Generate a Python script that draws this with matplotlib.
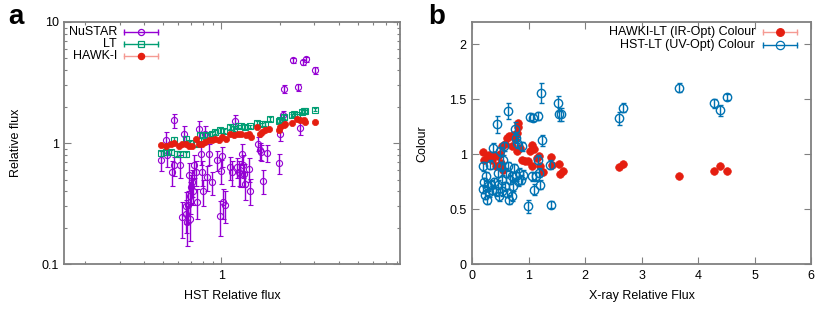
import matplotlib
matplotlib.use("Agg")
import matplotlib.pyplot as plt
from matplotlib.ticker import FixedLocator, NullFormatter, FixedFormatter

plt.rcParams['font.family'] = ['Liberation Sans', 'DejaVu Sans']

# ---------------- Panel a data ----------------
nu_x = [0.490, 0.520, 0.526, 0.559, 0.570, 0.574, 0.616, 0.629, 0.646, 0.654,
        0.659, 0.667, 0.675, 0.683, 0.689, 0.693, 0.699, 0.707, 0.716, 0.721,
        0.736, 0.750, 0.765, 0.787, 0.796, 0.805, 0.828, 0.845, 0.861, 0.896,
        0.950, 0.988, 0.996, 1.008, 1.020, 1.048, 1.112, 1.134, 1.170, 1.203,
        1.227, 1.251, 1.276, 1.291, 1.312, 1.328, 1.380, 1.408, 1.536, 1.573,
        1.597, 1.629, 1.715, 1.984, 2.006, 2.064, 2.104, 2.322, 2.463, 2.542,
        2.612, 2.718, 3.012]
nu_y = [0.728, 1.065, 0.791, 0.576, 0.654, 1.539, 0.654, 0.245, 1.194, 0.305,
        0.261, 0.222, 0.311, 0.541, 0.369, 0.237, 0.433, 0.476, 0.406, 0.654,
        0.576, 0.325, 1.313, 0.816, 0.576, 0.401, 1.194, 0.524, 0.816, 0.476,
        0.728, 0.252, 0.594, 0.781, 0.325, 0.311, 0.634, 0.576, 1.520, 0.634,
        0.576, 0.558, 0.816, 0.654, 0.558, 0.461, 0.614, 0.406, 0.987, 0.870,
        0.843, 0.491, 0.832, 0.683, 1.194, 1.693, 2.813, 4.82, 2.90, 1.339,
        4.67, 4.91, 3.99]
nu_err = [0.14, 0.17, 0.15, 0.13, 0.12, 0.20, 0.14, 0.08, 0.19, 0.09,
          0.08, 0.08, 0.09, 0.14, 0.11, 0.08, 0.11, 0.12, 0.10, 0.14,
          0.13, 0.09, 0.21, 0.16, 0.13, 0.10, 0.19, 0.12, 0.16, 0.10,
          0.14, 0.08, 0.13, 0.15, 0.09, 0.09, 0.14, 0.13, 0.19, 0.12,
          0.13, 0.12, 0.16, 0.14, 0.12, 0.12, 0.14, 0.10, 0.13, 0.14,
          0.13, 0.11, 0.13, 0.13, 0.15, 0.16, 0.21, 0.24, 0.18, 0.17,
          0.23, 0.25, 0.25]

lt_x = [0.490, 0.520, 0.548, 0.574, 0.593, 0.616, 0.654, 0.654, 0.693, 0.750,
        0.780, 0.812, 0.845, 0.896, 0.932, 0.988, 1.028, 1.112, 1.157, 1.213,
        1.262, 1.328, 1.408, 1.524, 1.616, 1.681, 1.769, 1.969, 2.006, 2.087,
        2.303, 2.350, 2.446, 2.590, 2.644, 2.700, 3.012]
lt_y = [0.827, 0.843, 0.843, 1.065, 0.816, 0.806, 0.806, 1.086, 1.000, 0.987,
        1.157, 1.052, 1.157, 1.194, 1.233, 1.273, 1.256, 1.356, 1.310, 1.373,
        1.373, 1.356, 1.373, 1.463, 1.426, 1.444, 1.579, 1.520, 1.540, 1.640,
        1.693, 1.725, 1.693, 1.803, 1.838, 1.830, 1.886]
lt_err = [0.04, 0.04, 0.04, 0.05, 0.04, 0.04, 0.04, 0.05, 0.04, 0.04,
          0.05, 0.04, 0.05, 0.05, 0.05, 0.05, 0.05, 0.05, 0.05, 0.05,
          0.05, 0.05, 0.05, 0.05, 0.05, 0.05, 0.05, 0.05, 0.05, 0.06,
          0.06, 0.06, 0.06, 0.06, 0.06, 0.06, 0.06]

hk_x = [0.490, 0.520, 0.552, 0.574, 0.604, 0.628, 0.654, 0.680, 0.707, 0.736,
        0.765, 0.796, 0.828, 0.861, 0.896, 0.932, 0.969, 1.008, 1.060, 1.110,
        1.157, 1.210, 1.260, 1.330, 1.380, 1.420, 1.520, 1.585, 1.620, 1.680,
        1.750, 1.970, 2.010, 2.090, 2.130, 2.300, 2.440, 2.540, 2.640, 2.700,
        3.010]
hk_y = [0.969, 0.944, 0.975, 1.000, 0.956, 0.987, 0.975, 0.956, 0.956, 1.086,
        0.987, 0.975, 1.019, 1.052, 1.052, 1.086, 1.065, 1.120, 1.086, 1.194,
        1.157, 1.194, 1.194, 1.157, 1.180, 1.120, 1.356, 1.194, 1.233, 1.273,
        1.310, 1.289, 1.356, 1.400, 1.426, 1.463, 1.588, 1.560, 1.540, 1.490,
        1.490]
hk_err = [0.02, 0.02, 0.02, 0.02, 0.02, 0.02, 0.02, 0.02, 0.02, 0.02,
          0.02, 0.02, 0.02, 0.02, 0.02, 0.02, 0.02, 0.02, 0.02, 0.02,
          0.02, 0.02, 0.02, 0.02, 0.02, 0.02, 0.02, 0.02, 0.02, 0.02,
          0.02, 0.02, 0.02, 0.02, 0.02, 0.02, 0.02, 0.02, 0.02, 0.02,
          0.02]

# ---------------- Panel b data ----------------
ir_x = [0.195, 0.207, 0.254, 0.295, 0.343, 0.390, 0.414, 0.449, 0.490, 0.508,
        0.532, 0.549, 0.579, 0.608, 0.650, 0.697, 0.727, 0.756, 0.786, 0.803,
        0.815, 0.786, 0.845, 0.886, 0.933, 0.992, 1.022, 1.052, 1.063, 1.099,
        1.140, 1.181, 1.199, 1.246, 1.394, 1.406, 1.536, 1.553, 1.601, 2.599,
        2.676, 3.660, 4.288, 4.388, 4.506]
ir_y = [1.018, 0.945, 0.967, 0.988, 0.951, 0.988, 0.897, 0.982, 0.997, 0.921,
        1.073, 0.860, 1.088, 1.149, 1.164, 1.073, 1.170, 1.134, 1.195, 1.246,
        1.280, 1.027, 1.058, 0.951, 0.936, 0.936, 1.027, 1.079, 0.891, 1.049,
        0.967, 0.982, 0.891, 0.836, 0.976, 0.906, 0.915, 0.824, 0.845, 0.881,
        0.915, 0.800, 0.851, 0.891, 0.851]
ir_err = [0.01] * 45

uv_x = [0.195, 0.183, 0.207, 0.224, 0.236, 0.254, 0.272, 0.295, 0.313, 0.331,
        0.354, 0.372, 0.390, 0.413, 0.431, 0.449, 0.461, 0.473, 0.490, 0.508,
        0.520, 0.532, 0.549, 0.567, 0.579, 0.591, 0.608, 0.626, 0.638, 0.650,
        0.667, 0.697, 0.709, 0.727, 0.744, 0.756, 0.768, 0.780, 0.786, 0.803,
        0.827, 0.862, 0.886, 0.904, 0.992, 1.022, 1.051, 1.081, 1.099, 1.122,
        1.170, 1.170, 1.181, 1.199, 1.217, 1.229, 1.376, 1.394, 1.512, 1.536,
        1.571, 2.599, 2.676, 3.660, 4.288, 4.388, 4.506]
uv_y = [0.891, 0.684, 0.745, 0.632, 0.799, 0.587, 0.708, 0.653, 0.906, 0.723,
        0.678, 1.058, 0.745, 0.663, 1.271, 0.723, 0.830, 0.617, 1.027, 0.891,
        0.663, 0.769, 0.951, 1.073, 0.708, 0.830, 0.647, 1.392, 0.891, 0.587,
        0.769, 0.617, 0.799, 0.708, 0.875, 1.231, 1.149, 0.799, 1.103, 0.754,
        0.830, 0.769, 1.073, 0.815, 0.526, 1.340, 0.799, 1.331, 0.678, 0.799,
        1.347, 0.951, 0.830, 0.723, 1.553, 1.125, 0.906, 0.541, 1.462, 1.362,
        1.362, 1.325, 1.422, 1.605, 1.462, 1.398, 1.520]
uv_err = [0.04, 0.04, 0.04, 0.04, 0.04, 0.04, 0.04, 0.04, 0.04, 0.04,
          0.04, 0.04, 0.04, 0.04, 0.08, 0.04, 0.04, 0.04, 0.04, 0.04,
          0.04, 0.04, 0.04, 0.04, 0.04, 0.04, 0.04, 0.07, 0.04, 0.04,
          0.04, 0.04, 0.04, 0.04, 0.04, 0.06, 0.05, 0.04, 0.05, 0.04,
          0.04, 0.04, 0.04, 0.04, 0.06, 0.03, 0.04, 0.03, 0.05, 0.04,
          0.04, 0.04, 0.04, 0.04, 0.09, 0.05, 0.04, 0.03, 0.07, 0.06,
          0.06, 0.06, 0.04, 0.04, 0.04, 0.05, 0.03]

# ---------------- styling ----------------
PURPLE = '#9400d3'
GREEN = '#009e73'
RED = '#e51e10'
RED_ERR = '#f59a93'
BLUE = '#0072b2'
FRAME = '#808080'
FS = 9

fig = plt.figure(figsize=(8.30, 3.12), dpi=100)
axa = fig.add_axes([64.3 / 830, 1 - 264.3 / 312, 335.7 / 830, 242.3 / 312])
axb = fig.add_axes([472.3 / 830, 1 - 264.3 / 312, 338.7 / 830, 242.3 / 312])


def style(ax):
    for s in ax.spines.values():
        s.set_color(FRAME)
        s.set_linewidth(1.3)
    ax.tick_params(which='both', direction='in', top=True, right=True,
                   color=FRAME, labelsize=FS, pad=4)
    ax.tick_params(which='major', length=5, width=0.8)
    ax.tick_params(which='minor', length=2.5, width=0.8)


def key(ax, y, label, color, ecolor, marker, mfc, ms, xt, x0, x1, xm):
    ax.text(xt, y, label, transform=ax.transAxes, ha='right', va='center',
            fontsize=FS)
    ax.plot([x0, x1], [y, y], color=ecolor, lw=1, transform=ax.transAxes,
            clip_on=False)
    ax.plot([x0, x1], [y, y], ls='none', marker='|', ms=4, mew=1,
            color=ecolor, transform=ax.transAxes, clip_on=False)
    ax.plot([xm], [y], ls='none', marker=marker, ms=ms, mfc=mfc, mec=color,
            mew=0.9, transform=ax.transAxes, clip_on=False)


# ---- panel a ----
axa.errorbar(nu_x, nu_y, yerr=nu_err, fmt='o', ms=4.4, mfc='none', mec=PURPLE,
             mew=0.8, ecolor=PURPLE, elinewidth=1, capsize=1.8, capthick=0.8,
             zorder=2)
axa.errorbar(lt_x, lt_y, yerr=lt_err, fmt='s', ms=4.0, mfc='none', mec=GREEN,
             mew=0.8, ecolor=GREEN, elinewidth=1, capsize=1.5, capthick=0.8,
             zorder=3)
axa.errorbar(hk_x, hk_y, yerr=hk_err, fmt='o', ms=4.5, mfc=RED, mec=RED,
             mew=0.5, ecolor=RED_ERR, elinewidth=0.8, capsize=0, zorder=4)
axa.set_xscale('log')
axa.set_yscale('log')
axa.set_xlim(0.156, 8.26)
axa.set_ylim(0.1, 10)
style(axa)
axa.xaxis.set_major_locator(FixedLocator([1]))
axa.xaxis.set_major_formatter(FixedFormatter(['1']))
axa.xaxis.set_minor_locator(FixedLocator([0.2, 0.3, 0.4, 0.5, 0.6, 0.7, 0.8, 0.9,
                                          2, 3, 4, 5, 6, 7, 8]))
axa.xaxis.set_minor_formatter(NullFormatter())
axa.yaxis.set_major_locator(FixedLocator([0.1, 1, 10]))
axa.yaxis.set_major_formatter(FixedFormatter(['0.1', '1', '10']))
axa.yaxis.set_minor_locator(FixedLocator([0.2, 0.3, 0.4, 0.5, 0.6, 0.7, 0.8, 0.9,
                                          2, 3, 4, 5, 6, 7, 8, 9]))
axa.yaxis.set_minor_formatter(NullFormatter())
axa.set_xlabel('HST Relative flux', fontsize=FS)
axa.set_ylabel('Relative flux', fontsize=FS)
axa.xaxis.set_label_coords(0.5, -0.105)
axa.yaxis.set_label_coords(-0.125, 0.5)

key(axa, 0.959, 'NuSTAR', PURPLE, PURPLE, 'o', 'none', 4.4, 0.157, 0.178, 0.279, 0.228)
key(axa, 0.911, 'LT', GREEN, GREEN, 's', 'none', 4.0, 0.157, 0.178, 0.279, 0.228)
key(axa, 0.861, 'HAWK-I', RED, RED_ERR, 'o', RED, 4.5, 0.157, 0.178, 0.279, 0.228)

# ---- panel b ----
axb.errorbar(ir_x, ir_y, yerr=ir_err, fmt='o', ms=5.5, mfc=RED, mec=RED,
             mew=0.5, ecolor=RED_ERR, elinewidth=0.8, capsize=0, zorder=2)
axb.errorbar(uv_x, uv_y, yerr=uv_err, fmt='o', ms=6, mfc='none', mec=BLUE,
             mew=1.0, ecolor=BLUE, elinewidth=1, capsize=1.8, capthick=0.8,
             zorder=3)
axb.set_xlim(0, 6)
axb.set_ylim(0, 2.2)
style(axb)
axb.set_xticks([0, 1, 2, 3, 4, 5, 6])
axb.set_yticks([0, 0.5, 1, 1.5, 2])
axb.set_yticklabels(['0', '0.5', '1', '1.5', '2'])
axb.set_xlabel('X-ray Relative Flux', fontsize=FS)
axb.set_ylabel('Colour', fontsize=FS)
axb.xaxis.set_label_coords(0.5, -0.105)
axb.yaxis.set_label_coords(-0.13, 0.5)

key(axb, 0.957, 'HAWKI-LT (IR-Opt) Colour', RED, RED_ERR, 'o', RED, 5.5, 0.835, 0.859, 0.958, 0.908)
key(axb, 0.905, 'HST-LT (UV-Opt) Colour', BLUE, BLUE, 'o', 'none', 6, 0.835, 0.859, 0.958, 0.908)

fig.text(8 / 830, 1 - 24 / 312, 'a', fontsize=20, fontweight='bold', ha='left',
         va='baseline')
fig.text(428 / 830, 1 - 24 / 312, 'b', fontsize=20, fontweight='bold', ha='left',
         va='baseline')

fig.savefig('out.png', dpi=100)
